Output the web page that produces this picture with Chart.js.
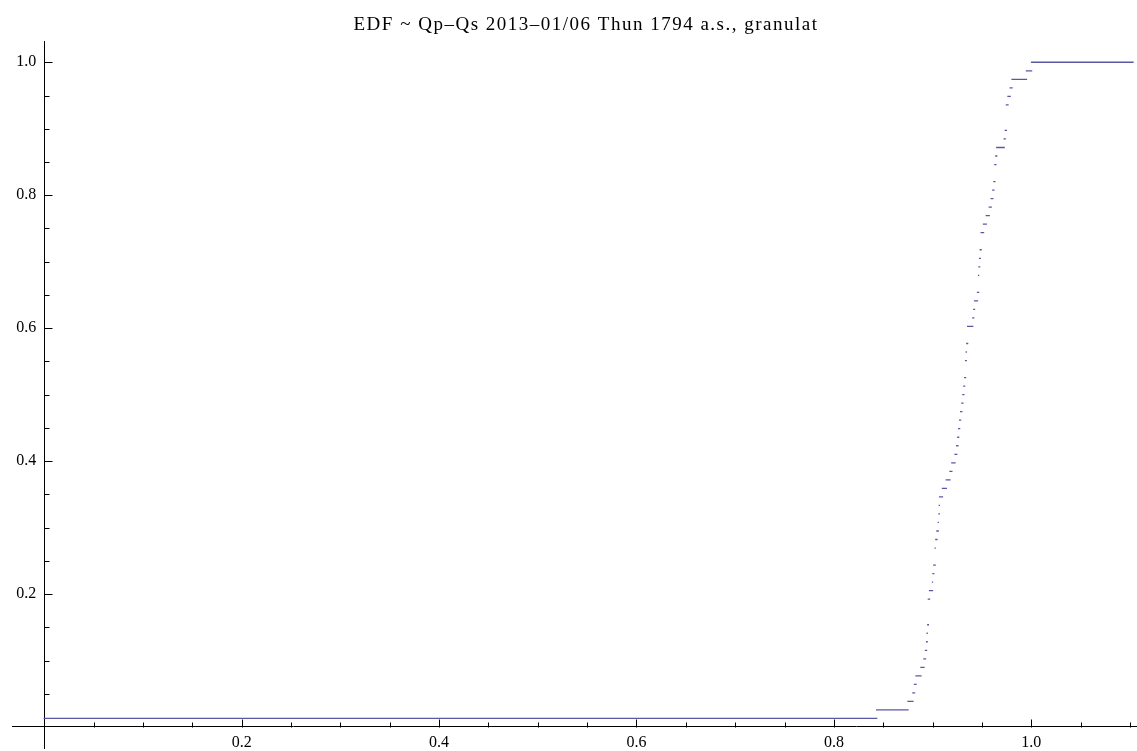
<!DOCTYPE html>
<html>
<head>
<meta charset="utf-8">
<title>EDF ~ Qp–Qs 2013–01/06 Thun 1794 a.s., granulat</title>
<script src="https://cdn.jsdelivr.net/npm/chart.js@4.4.1/dist/chart.umd.min.js"></script>
<style>
  html, body { margin: 0; padding: 0; background: #fff; }
  canvas { display: block; }
</style>
</head>
<body>
<canvas id="edfChart" width="1137" height="751"></canvas>
<script>
const chartTitle = "EDF ~ Qp–Qs 2013–01/06 Thun 1794 a.s., granulat";

const sampleValues = [
  0, 0.8434, 0.8751, 0.8801, 0.8817, 0.8832, 0.8882, 0.8913, 0.8928, 0.8939,
  0.8945, 0.8951, 0.8957, 0.8957, 0.8957, 0.8969, 0.8999, 0.9004, 0.9012, 0.9026,
  0.9026, 0.9033, 0.9044, 0.9057, 0.9064, 0.9068, 0.9071, 0.9100, 0.9139, 0.9176,
  0.9195, 0.9227, 0.9245, 0.9256, 0.9264, 0.9274, 0.9284, 0.9296, 0.9307, 0.9317,
  0.9325, 0.9334, 0.9334, 0.9341, 0.9347, 0.9355, 0.9355, 0.9407, 0.9417, 0.9425,
  0.9455, 0.9466, 0.9466, 0.9470, 0.9476, 0.9483, 0.9492, 0.9492, 0.9516, 0.9544,
  0.9574, 0.9594, 0.9610, 0.9621, 0.9631, 0.9631, 0.9641, 0.9650, 0.9725, 0.9736,
  0.9748, 0.9748, 0.9748, 0.9764, 0.9786, 0.9805, 0.9951, 1.0003
];
const domainEnd = 1.103;

const xTickValues = [0.2, 0.4, 0.6, 0.8, 1.0];
const yTickValues = [0.2, 0.4, 0.6, 0.8, 1.0];

// each step is a flat piece, the rises are not drawn (like Mathematica does)
const n = sampleValues.length;
const stepPoints = [];
sampleValues.forEach((v, i) => {
  const next = i + 1 < n ? sampleValues[i + 1] : domainEnd;
  if (next <= v) return; // tied values, nothing flat to draw
  const level = (i + 1) / n;
  stepPoints.push({x: v, y: level}, {x: next, y: level}, {x: next, y: null});
});

const tickMarks = {
  id: 'tickMarks',
  afterDraw(chart) {
    const {ctx, scales: {x, y}} = chart;
    const x0 = Math.round(x.getPixelForValue(0)) + 0.5;
    const y0 = Math.round(y.getPixelForValue(0)) + 0.5;
    ctx.save();
    ctx.strokeStyle = '#000';
    ctx.lineWidth = 1;
    ctx.beginPath();
    for (let i = 1; i <= 22; i++) {
      const px = Math.round(x.getPixelForValue(i * 0.05)) + 0.5;
      const len = i % 4 === 0 ? 8 : 5;
      ctx.moveTo(px, y0);
      ctx.lineTo(px, y0 - len);
    }
    for (let i = 1; i <= 20; i++) {
      const py = Math.round(y.getPixelForValue(i * 0.05)) + 0.5;
      const len = i % 4 === 0 ? 8 : 5;
      ctx.moveTo(x0, py);
      ctx.lineTo(x0 + len, py);
    }
    ctx.stroke();
    ctx.restore();
  }
};

const titleText = {
  id: 'titleText',
  afterDraw(chart) {
    const ctx = chart.ctx;
    ctx.save();
    ctx.fillStyle = '#000';
    ctx.font = '19px "Liberation Serif", "Times New Roman", serif';
    ctx.letterSpacing = '1.5px';
    ctx.textAlign = 'center';
    ctx.textBaseline = 'alphabetic';
    ctx.fillText(chartTitle, 586, 30);
    ctx.restore();
  }
};

const tickFont = {family: '"Liberation Serif", "Times New Roman", serif', size: 16};

// axes cross inside the plot, so they should not eat any layout space
const noAxisSpace = s => {
  if (s.isHorizontal()) s.height = 0; else s.width = 0;
  s.paddingTop = s.paddingBottom = s.paddingLeft = s.paddingRight = 0;
};

const ctx = document.getElementById('edfChart');
new Chart(ctx, {
  type: 'line',
  data: {
    datasets: [{
      data: stepPoints,
      borderColor: 'rgb(88, 88, 165)',
      borderWidth: 1.3,
      borderCapStyle: 'square',
      pointRadius: 0,
      spanGaps: false,
      tension: 0
    }]
  },
  options: {
    responsive: false,
    animation: false,
    layout: {padding: {left: 12, right: 0, top: 41, bottom: 3}},
    plugins: {
      legend: {display: false},
      tooltip: {enabled: false},
      title: {display: false}
    },
    scales: {
      x: {
        type: 'linear',
        min: -0.0327,
        max: 1.1071,
        position: {y: 0},
        grid: {drawOnChartArea: false, drawTicks: false},
        border: {display: true, color: '#000', width: 1},
        afterBuildTicks: s => { s.ticks = xTickValues.map(v => ({value: v})); },
        afterFit: noAxisSpace,
        ticks: {
          callback: v => v.toFixed(1),
          font: tickFont,
          color: '#000',
          padding: 6,
          maxRotation: 0,
          autoSkip: false
        }
      },
      y: {
        type: 'linear',
        min: -0.0316,
        max: 1.032,
        position: {x: 0},
        grid: {drawOnChartArea: false, drawTicks: false},
        border: {display: true, color: '#000', width: 1},
        afterBuildTicks: s => { s.ticks = yTickValues.map(v => ({value: v})); },
        afterFit: noAxisSpace,
        ticks: {
          // centred y axis ignores padding, so keep the label off the axis with an en space
          callback: v => v.toFixed(1) + '\u2002',
          font: tickFont,
          color: '#000',
          autoSkip: false
        }
      }
    }
  },
  plugins: [tickMarks, titleText]
});
</script>
</body>
</html>
